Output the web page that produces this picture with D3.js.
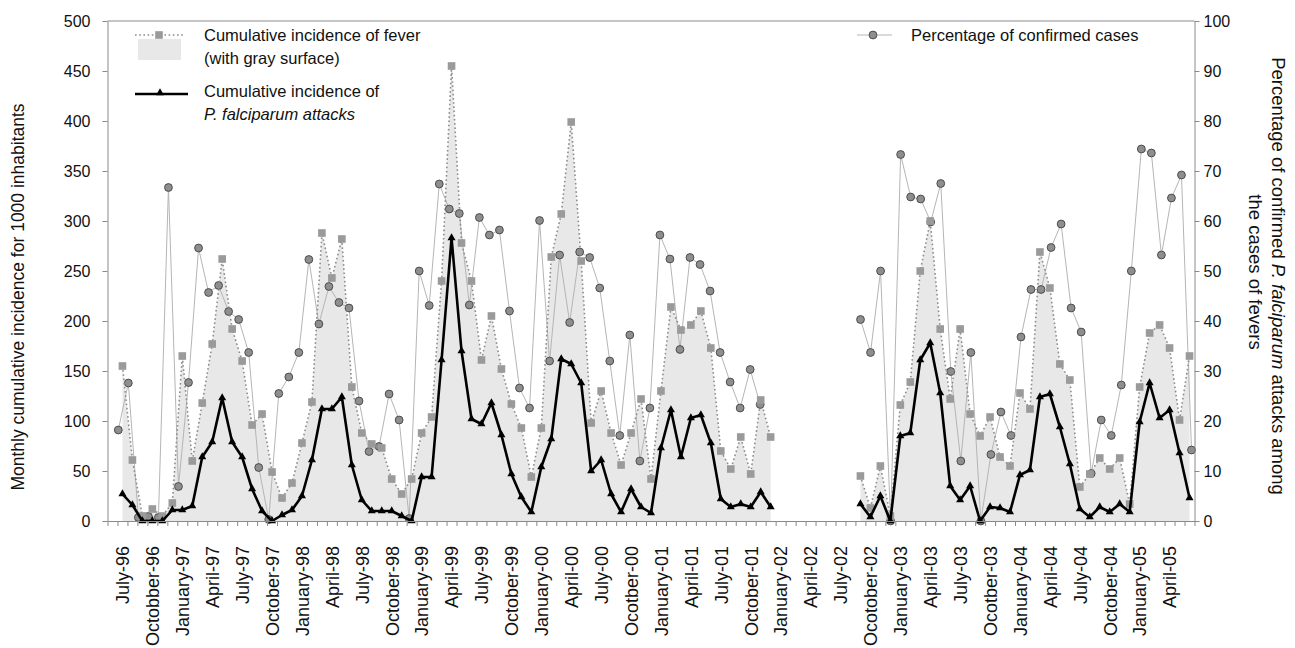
<!DOCTYPE html>
<html>
<head>
<meta charset="utf-8">
<script src="https://cdnjs.cloudflare.com/ajax/libs/d3/7.8.5/d3.min.js"></script>
<style>
  body { margin: 0; background: #fff; }
  svg text { font-family: "Liberation Sans", Arial, sans-serif; fill: #111; }
</style>
</head>
<body>
<div id="chart"></div>
<script>
// month index 0 = July-96 ... 107 = June-05, gap Jan-02 .. Aug-02
const tickIndex = [0, 3, 6, 9, 12, 15, 18, 21, 24, 27, 30, 33, 36, 39, 42, 45, 48, 51,
  54, 57, 60, 63, 66, 69, 72, 75, 78, 81, 84, 87, 90, 93, 96, 99, 102, 105];
const tickLabels = ["July-96", "Octobber-96", "January-97", "April-97", "July-97", "October-97",
  "January-98", "April-98", "July-98", "October-98", "January-99", "April-99", "July-99",
  "October-99", "January-00", "April-00", "July-00", "Ocotber-00", "January-01", "April-01",
  "July-01", "October-01", "January-02", "April-02", "July-02", "Ocotober-02", "January-03",
  "April-03", "July-03", "Ocotber-03", "January-04", "April-04", "July-04", "October-04",
  "January-05", "April-05"];

// cumulative incidence of fever (per 1000)
const fever = [
  155, 61, 5, 12, 5, 18, 165, 60, 118, 177,
  262, 192, 160, 96, 107, 49, 23, 38, 78, 119,
  288, 243, 282, 134, 88, 77, 73, 42, 27, 42,
  88, 104, 240, 455, 278, 240, 161, 205, 152, 117,
  93, 44, 93, 264, 307, 399, 260, 98, 130, 88,
  56, 88, 122, 42, 130, 214, 191, 196, 210, 173,
  70, 52, 84, 47, 121, 84,
  null, null, null, null, null, null, null, null,
  45, 13, 55, 5, 116, 139, 250, 300, 192, 122,
  192, 107, 85, 104, 64, 55, 128, 112, 269, 233,
  157, 141, 34, 47, 63, 52, 63, 17, 134, 188,
  196, 173, 101, 165
];

// cumulative incidence of P. falciparum attacks (per 1000)
const falciparum = [
  27, 16, 0, 0, 0, 11, 11, 15, 64, 79,
  123, 79, 64, 32, 10, 0, 6, 11, 25, 61,
  112, 112, 124, 56, 21, 10, 10, 10, 5, 0,
  44, 44, 161, 283, 170, 102, 97, 118, 86, 47,
  24, 9, 54, 82, 162, 157, 138, 50, 61, 27,
  9, 32, 14, 8, 73, 111, 64, 103, 106, 78,
  22, 14, 17, 14, 29, 14,
  null, null, null, null, null, null, null, null,
  17, 4, 25, 0, 85, 88, 161, 178, 128, 35,
  21, 35, 0, 14, 13, 9, 46, 51, 124, 127,
  94, 57, 12, 4, 14, 9, 17, 9, 99, 138,
  103, 111, 68, 23
];

// percentage of confirmed cases (right axis)
const percent = [
  18.2, 27.6, 0.7, 0.9, 0.7, 66.7, 6.9, 27.7, 54.6, 45.7,
  47.1, 41.9, 40.3, 33.7, 10.7, 0.3, 25.5, 28.8, 33.7, 52.3,
  39.4, 46.9, 43.7, 42.6, 24, 13.9, 14.9, 25.4, 20.2, 0.5,
  50, 43.1, 67.4, 62.4, 61.5, 43.2, 60.7, 57.2, 58.2, 42,
  26.6, 22.6, 60.1, 32, 53.2, 39.7, 53.8, 52.7, 46.6, 32,
  17.1, 37.2, 12, 22.6, 57.2, 52.4, 34.3, 52.7, 51.3, 46,
  33.7, 27.8, 22.6, 30.3, 23.3,
  null, null, null, null, null, null, null, null, null,
  40.3, 33.7, 50, 0, 73.3, 64.8, 64.4, 59.8, 67.5, 29.9,
  12, 33.7, 0, 13.3, 21.8, 17.1, 36.8, 46.3, 46.3, 54.7,
  59.4, 42.6, 37.8, 9.5, 20.2, 17.1, 27.2, 50, 74.4, 73.6,
  53.2, 64.6, 69.2, 14.2
];

const W = 1295, H = 648;
const pLeft = 107.5, pRight = 1194.5, pTop = 21, pBottom = 521;

const svg = d3.select("#chart").append("svg")
  .attr("width", W)
  .attr("height", H);

// primary category positions (one empty slot before July-96)
let x = d3.scaleLinear().domain([-1.5, 107.5]).range([pLeft, pRight]);
// secondary series sits on a slightly wider spread
let xc = d3.scaleLinear().domain([0, 107]).range([118.3, 1191.5]);
let y = d3.scaleLinear().domain([0, 500]).range([pBottom, pTop]);
let yr = d3.scaleLinear().domain([0, 100]).range([pBottom, pTop]);

const idx = d3.range(fever.length);

// top frame line
svg.append("line")
  .attr("x1", pLeft).attr("x2", pRight)
  .attr("y1", pTop).attr("y2", pTop)
  .attr("stroke", "#8a8a8a");

// gray surface
let area = d3.area()
  .defined(i => fever[i] != null)
  .x(i => x(i))
  .y0(y(0))
  .y1(i => y(fever[i]));

svg.append("path")
  .datum(idx)
  .attr("d", area)
  .attr("fill", "#e8e8e8");

// percentage line + circles
let pline = d3.line()
  .defined(i => percent[i] != null)
  .x(i => xc(i))
  .y(i => yr(percent[i]));

svg.append("path")
  .datum(idx)
  .attr("d", pline)
  .attr("fill", "none")
  .attr("stroke", "#b5b5b5")
  .attr("stroke-width", 1);

svg.append("g").selectAll("circle")
  .data(idx.filter(i => percent[i] != null))
  .enter()
  .append("circle")
  .attr("cx", i => xc(i))
  .attr("cy", i => yr(percent[i]))
  .attr("r", 3.9)
  .attr("fill", "#8e8e8e")
  .attr("stroke", "#4d4d4d")
  .attr("stroke-width", 1);

// fever dotted line + squares
let fline = d3.line()
  .defined(i => fever[i] != null)
  .x(i => x(i))
  .y(i => y(fever[i]));

svg.append("path")
  .datum(idx)
  .attr("d", fline)
  .attr("fill", "none")
  .attr("stroke", "#8c8c8c")
  .attr("stroke-width", 1.6)
  .attr("stroke-dasharray", "1.6,2.6");

let square = d3.symbol(d3.symbolSquare, 58);
svg.append("g").selectAll("path")
  .data(idx.filter(i => fever[i] != null))
  .enter()
  .append("path")
  .attr("d", square)
  .attr("transform", i => "translate(" + x(i) + "," + y(fever[i]) + ")")
  .attr("fill", "#9a9a9a");

// falciparum black line + triangles
let tline = d3.line()
  .defined(i => falciparum[i] != null)
  .x(i => x(i))
  .y(i => y(falciparum[i]));

svg.append("path")
  .datum(idx)
  .attr("d", tline)
  .attr("fill", "none")
  .attr("stroke", "#000")
  .attr("stroke-width", 2.6)
  .attr("stroke-linejoin", "round");

let tri = d3.symbol(d3.symbolTriangle, 28);
svg.append("g").selectAll("path")
  .data(idx.filter(i => falciparum[i] != null))
  .enter()
  .append("path")
  .attr("d", tri)
  .attr("transform", i => "translate(" + x(i) + "," + y(falciparum[i]) + ")")
  .attr("fill", "#000");

// axes
function styleAxis(g) {
  g.selectAll(".domain").attr("stroke", "#8a8a8a");
  g.selectAll(".tick line").attr("stroke", "#8a8a8a");
  g.selectAll(".tick text")
    .style("font-family", '"Liberation Sans", Arial, sans-serif')
    .style("font-size", "16px")
    .attr("fill", "#111");
}

svg.append("g")
  .attr("transform", "translate(" + pLeft + ",0)")
  .call(d3.axisLeft(y).tickValues(d3.range(0, 501, 50)).tickSize(5).tickSizeOuter(0).tickPadding(12))
  .call(styleAxis);

svg.append("g")
  .attr("transform", "translate(" + pRight + ",0)")
  .call(d3.axisRight(yr).tickValues(d3.range(0, 101, 10)).tickSize(5).tickSizeOuter(0).tickPadding(4))
  .call(styleAxis);

// x tick marks at category boundaries
let bounds = d3.range(-1.5, 108, 1);
svg.append("g")
  .attr("transform", "translate(0," + pBottom + ")")
  .call(d3.axisBottom(x).tickValues(bounds).tickSize(5).tickSizeOuter(0).tickFormat(""))
  .call(styleAxis);

// x labels
let xl = svg.append("g")
  .attr("transform", "translate(0," + pBottom + ")")
  .call(d3.axisBottom(x).tickValues(tickIndex).tickSize(0)
    .tickFormat((d, k) => tickLabels[k]));
xl.select(".domain").remove();
xl.selectAll(".tick text")
  .style("font-family", '"Liberation Sans", Arial, sans-serif')
  .style("font-size", "18px")
  .attr("fill", "#111")
  .attr("text-anchor", "end")
  .attr("transform", "rotate(-90)")
  .attr("x", -25)
  .attr("y", 0)
  .attr("dy", "0.35em");

// axis titles
svg.append("text")
  .attr("transform", "translate(18,297) rotate(-90)")
  .attr("text-anchor", "middle")
  .attr("dominant-baseline", "central")
  .style("font-size", "17.5px")
  .text("Monthly cumulative incidence for 1000 inhabitants");

let rt = svg.append("text")
  .attr("transform", "translate(1279,276) rotate(90)")
  .attr("text-anchor", "middle")
  .attr("dominant-baseline", "central")
  .style("font-size", "18.5px");
rt.append("tspan").text("Percentage of confirmed ");
rt.append("tspan").style("font-style", "italic").text("P. falciparum");
rt.append("tspan").text(" attacks among");

svg.append("text")
  .attr("transform", "translate(1255,272) rotate(90)")
  .attr("text-anchor", "middle")
  .attr("dominant-baseline", "central")
  .style("font-size", "18.5px")
  .text("the cases of fevers");

// legend
let lg = svg.append("g").style("font-size", "16.5px");

lg.append("rect")
  .attr("x", 138).attr("y", 39).attr("width", 43).attr("height", 21)
  .attr("fill", "#e8e8e8");
lg.append("line")
  .attr("x1", 135).attr("x2", 184).attr("y1", 35).attr("y2", 35)
  .attr("stroke", "#8c8c8c").attr("stroke-width", 1.6)
  .attr("stroke-dasharray", "1.6,2.6");
lg.append("path")
  .attr("d", square)
  .attr("transform", "translate(159,35)")
  .attr("fill", "#9a9a9a");
lg.append("text").attr("x", 204).attr("y", 35).attr("dominant-baseline", "central")
  .text("Cumulative incidence of fever");
lg.append("text").attr("x", 204).attr("y", 58).attr("dominant-baseline", "central")
  .text("(with gray surface)");

lg.append("line")
  .attr("x1", 135).attr("x2", 188).attr("y1", 94).attr("y2", 94)
  .attr("stroke", "#000").attr("stroke-width", 2.6);
lg.append("path")
  .attr("d", tri)
  .attr("transform", "translate(160,93)")
  .attr("fill", "#000");
lg.append("text").attr("x", 204).attr("y", 91).attr("dominant-baseline", "central")
  .text("Cumulative incidence of");
lg.append("text").attr("x", 204).attr("y", 114).attr("dominant-baseline", "central")
  .style("font-style", "italic")
  .text("P. falciparum attacks");

lg.append("line")
  .attr("x1", 857).attr("x2", 892).attr("y1", 35).attr("y2", 35)
  .attr("stroke", "#b5b5b5").attr("stroke-width", 1);
lg.append("circle")
  .attr("cx", 873).attr("cy", 35).attr("r", 3.9)
  .attr("fill", "#8e8e8e").attr("stroke", "#4d4d4d");
lg.append("text").attr("x", 911).attr("y", 35).attr("dominant-baseline", "central")
  .text("Percentage of confirmed cases");
</script>
</body>
</html>
